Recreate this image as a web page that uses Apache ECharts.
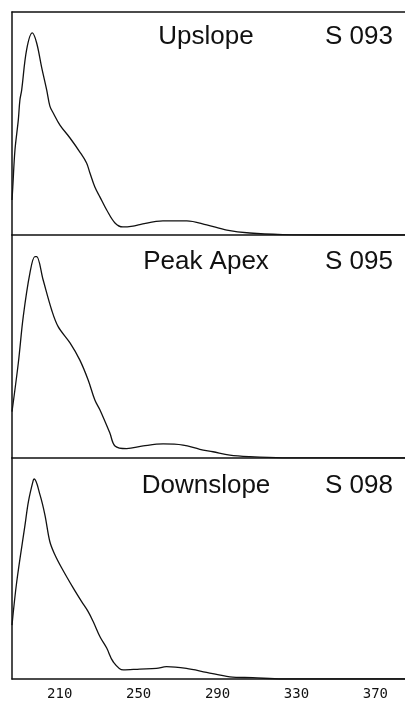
<!DOCTYPE html>
<html>
<head>
<meta charset="utf-8">
<script src="https://cdn.jsdelivr.net/npm/echarts@6/dist/echarts.min.js"></script>
<style>
  html, body { margin: 0; padding: 0; background: #fff; }
  #chart { width: 405px; height: 702px; }
</style>
</head>
<body>
<div id="chart"></div>
<script>
// UV spectra across the chromatographic peak (wavelength in nm, relative absorbance 0-100)
const panelNames = ['Upslope', 'Peak Apex', 'Downslope'];
const scanIds = ['S 093', 'S 095', 'S 098'];
const tickLabels = [210, 250, 290, 330, 370];

const upWl  = [185.8, 186.2, 187.3, 189.0, 189.8, 190.7, 193.2, 196.1, 198.3, 200.8, 203.4, 205.0, 206.7, 210.1, 215.2, 220.2, 223.6, 225.3, 227.8, 230.4, 233.8, 238.0, 242.0, 247.1, 250.6, 262.3, 274.4, 284.5, 294.7, 306.3, 323.0, 346.8, 385.0];
const upAbs = [15.7, 21.5, 38.1, 51.6, 60.5, 65.0, 83.0, 90.6, 86.1, 75.3, 65.0, 57.8, 54.7, 49.3, 43.5, 37.2, 32.3, 27.8, 21.5, 17.0, 11.2, 5.4, 3.6, 4.0, 4.7, 6.3, 6.3, 4.5, 2.2, 0.9, 0.2, 0.0, 0.0];

const apexWl  = [185.8, 189.0, 191.5, 194.9, 197.4, 198.3, 201.6, 205.9, 209.2, 215.2, 220.2, 224.4, 227.8, 230.4, 235.4, 238.0, 243.9, 252.3, 262.4, 272.5, 281.0, 287.7, 296.2, 306.3, 323.0, 385.0];
const apexAbs = [20.8, 42.6, 63.4, 83.0, 90.3, 90.3, 79.8, 66.4, 58.9, 51.6, 43.9, 35.0, 26.0, 21.5, 11.2, 5.4, 4.2, 5.4, 6.3, 5.8, 3.9, 2.8, 1.3, 0.6, 0.1, 0.0];

const downWl  = [185.8, 188.2, 192.4, 194.1, 196.6, 197.1, 200.0, 202.5, 205.0, 207.6, 211.0, 216.8, 221.1, 224.4, 227.0, 230.4, 233.8, 237.1, 242.2, 250.6, 259.0, 264.1, 274.2, 284.4, 296.2, 307.8, 323.0, 385.0];
const downAbs = [24.4, 44.0, 69.7, 80.2, 90.0, 90.5, 83.3, 74.2, 62.1, 56.1, 50.2, 41.2, 35.0, 30.5, 25.9, 19.1, 14.0, 7.8, 4.1, 4.5, 4.8, 5.6, 4.8, 3.0, 1.0, 0.6, 0.0, 0.0];

const spectra = [[upWl, upAbs], [apexWl, apexAbs], [downWl, downAbs]];

const X_MIN = 185.8, X_MAX = 385;
const INK = '#111';
const grids = [
  { left: 12, right: 0, top: 12,  height: 223 },
  { left: 12, right: 0, top: 235, height: 223 },
  { left: 12, right: 0, top: 458, height: 221 }
];
const labelY = [37, 262, 486];
const frameLine = { show: true, lineStyle: { color: INK, width: 1.5 } };

const chart = echarts.init(document.getElementById('chart'), null, { renderer: 'canvas' });

// one bottom axis per panel, plus a top rule closing the first panel
const xAxes = grids.map((g, i) => ({
  type: 'value', gridIndex: i, min: X_MIN, max: X_MAX,
  axisLine: frameLine,
  axisTick: { show: false },
  splitLine: { show: false },
  axisLabel: {
    show: i === 2,
    customValues: tickLabels,
    margin: 8,
    fontFamily: 'DejaVu Sans Mono',
    fontSize: 14,
    color: '#111'
  }
}));
xAxes.push({
  type: 'value', gridIndex: 0, position: 'top', min: X_MIN, max: X_MAX,
  axisLine: frameLine, axisTick: { show: false },
  axisLabel: { show: false }, splitLine: { show: false }
});

const option = {
  backgroundColor: '#fff',
  animation: false,
  grid: grids,
  xAxis: xAxes,
  yAxis: grids.map((g, i) => ({
    type: 'value', gridIndex: i, min: 0, max: 100,
    axisLine: frameLine,
    axisTick: { show: false },
    axisLabel: { show: false },
    splitLine: { show: false }
  })),
  series: spectra.map((s, i) => ({
    type: 'line', xAxisIndex: i, yAxisIndex: i,
    data: s[0].map((w, k) => [w, s[1][k]]),
    showSymbol: false,
    smooth: 0.35,
    lineStyle: { color: INK, width: 1.3 },
    z: 3
  })),
  graphic: panelNames.flatMap((name, i) => [
    {
      type: 'text', x: 206, y: labelY[i],
      style: { text: name, fill: '#111', font: '26px "Liberation Sans", Arial, sans-serif',
               textAlign: 'center', textVerticalAlign: 'middle' }
    },
    {
      type: 'text', x: 393, y: labelY[i],
      style: { text: scanIds[i], fill: '#111', font: '26px "Liberation Sans", Arial, sans-serif',
               textAlign: 'right', textVerticalAlign: 'middle' }
    }
  ])
};

chart.setOption(option);
</script>
</body>
</html>
